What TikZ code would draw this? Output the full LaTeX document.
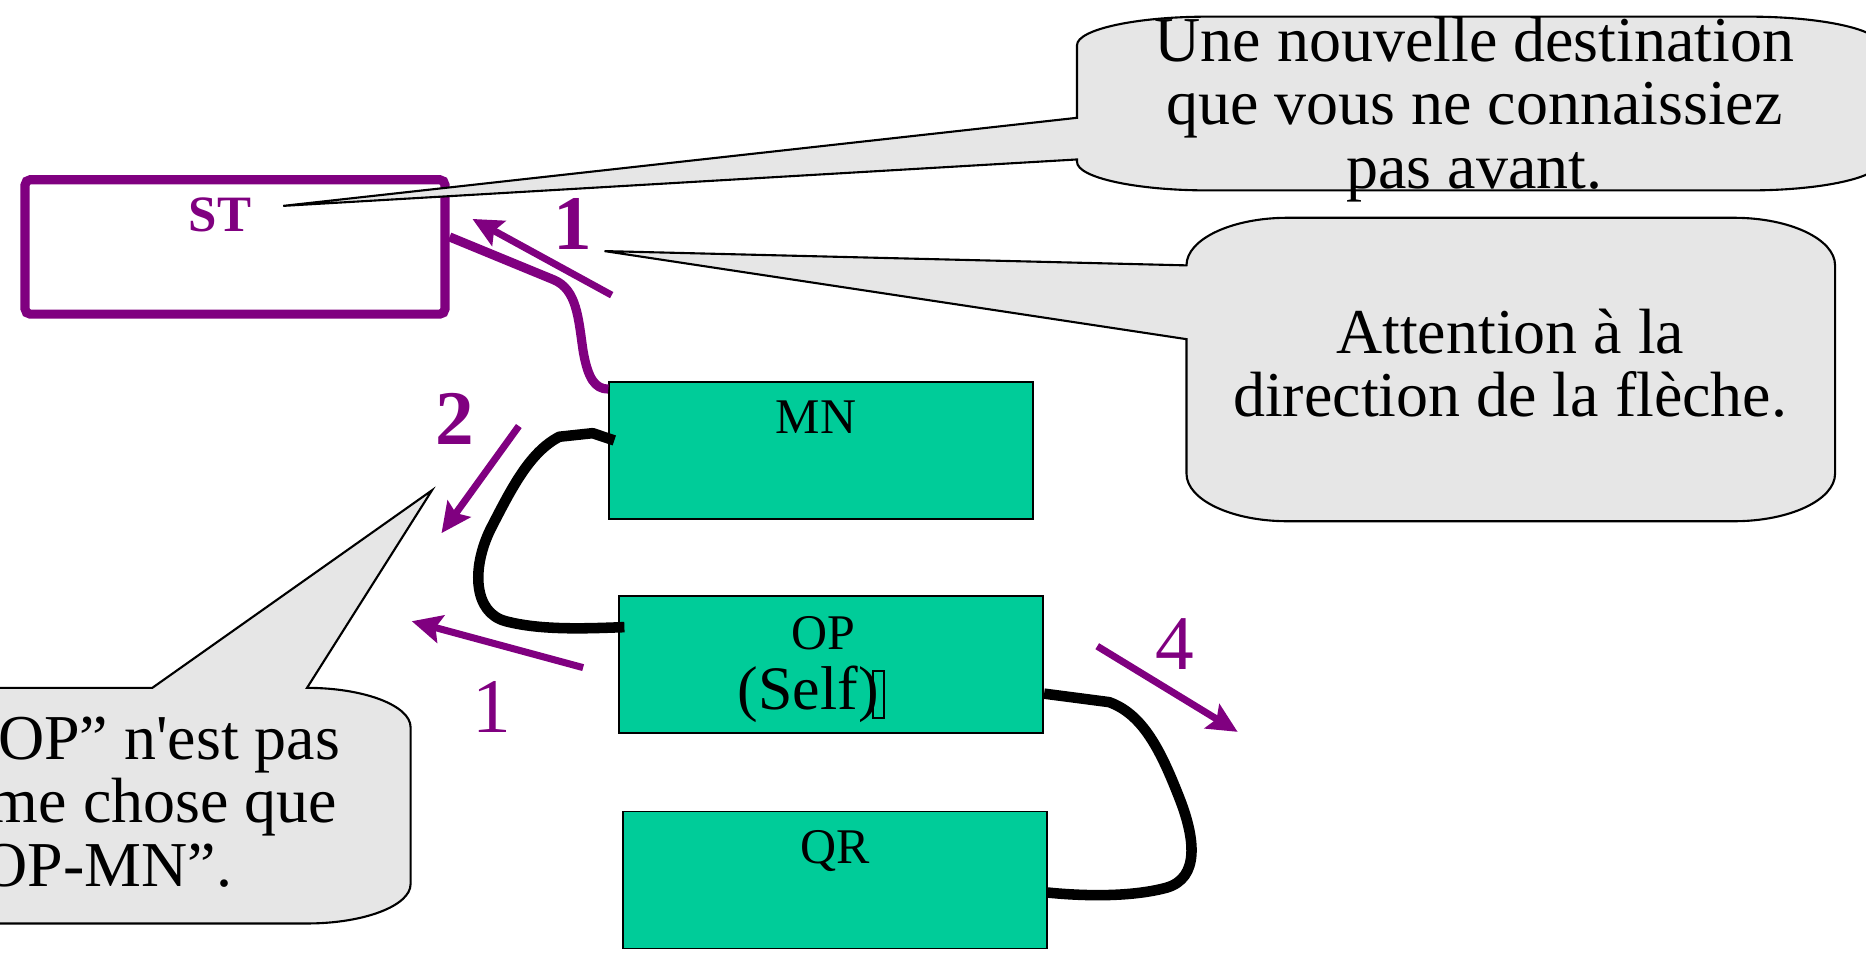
\documentclass[tikz,border=0pt]{standalone}
\usepackage{fontspec}
\setmainfont{Liberation Serif}
\newfontfamily\notefont{Liberation Serif}
\usepackage{tikz}
\usetikzlibrary{arrows.meta}
\usetikzlibrary{positioning}
\definecolor{stpurple}{RGB}{128,0,128}
\definecolor{cellgreen}{RGB}{0,204,153}
\definecolor{bubblegray}{RGB}{230,230,230}
\tikzstyle{stbox} = [rectangle, rounded corners=1.5pt, draw=stpurple, line width=2.6pt, minimum width=4.2cm, minimum height=1.345cm]
\tikzstyle{cell} = [rectangle, draw=black, line width=0.5pt, fill=cellgreen, minimum width=4.24cm, minimum height=1.37cm]
\tikzstyle{cellname} = [inner sep=0pt, font=\fontsize{14.2}{16}\selectfont]
\tikzstyle{bubble} = [draw=black, line width=0.6pt, fill=bubblegray]
\tikzstyle{note} = [align=center, inner sep=0pt, font=\notefont\fontsize{18.2}{18}\selectfont]
\tikzstyle{num} = [inner sep=0pt, text=stpurple, font=\fontsize{22}{24}\selectfont]
\tikzstyle{numbold} = [num, font=\bfseries\fontsize{22}{24}\selectfont]
\tikzstyle{arrow} = [line width=2pt, draw=stpurple, -{Stealth[length=8.5pt, width=8pt, inset=1.5pt]}]
\tikzstyle{link} = [line width=3pt, line join=round]
\newcommand{\tofu}{\kern-0.1em\raisebox{-0.115em}{\fboxsep=0pt\fboxrule=0.5pt\fbox{\rule{0.14em}{0pt}\rule{0pt}{0.73em}}}}

\begin{document}
\begin{tikzpicture}[x=0.0119cm, y=-0.0119cm]
\useasboundingbox (0,0) rectangle (1568,802);

\node (st) [stbox] at (197.5,207.5) {};
\node (stl) [inner sep=0pt, text=stpurple, font=\bfseries\fontsize{14.5}{16}\selectfont, below=0.22cm of st.north, xshift=-0.15cm] {ST};

\node (mn) [cell] at (690,378.5) {};
\node (op) [cell] at (698.5,558.5) {};
\node (qr) [cell] at (701.5,739.5) {};
\node (mnl) [cellname, below=0.19cm of mn.north, xshift=-0.05cm] {MN};
\node (opl) [cellname, below=0.2cm of op.north, xshift=-0.08cm] {OP};
\node (self) [cellname, font=\fontsize{17.6}{20}\selectfont, below=0.155cm of opl.south, xshift=-0.12cm] {(Self)\tofu};
\node (qrl) [cellname, below=0.19cm of qr.north] {QR};

% links between the cells
\draw [link, draw=stpurple, line width=2.6pt] ([yshift=0.1cm]st.east) -- (465,235) .. controls (485,243) and (486,268) .. (490,295) .. controls (494,318) and (500,327) .. ([yshift=-0.08cm]mn.north west);
\draw [link] ([xshift=0.06cm,yshift=0.1cm]mn.west) -- (498,364) -- (470,367) .. controls (445,380) and (430,410) .. (412,445) .. controls (396,478) and (398,515) .. (425,522) .. controls (455,530) and (495,528) .. ([xshift=0.06cm,yshift=0.375cm]op.west);
\draw [link] ([yshift=-0.29cm]op.east) -- (932,590) .. controls (960,600) and (975,630) .. (990,668) .. controls (1005,705) and (1008,738) .. (980,746) .. controls (950,754) and (910,753) .. ([yshift=-0.125cm]qr.east);

% numbered arrows
\coordinate (a1s) at (514,248);
\coordinate (a1e) at (397,184);
\coordinate (a2s) at (436,358);
\coordinate (a2e) at (371,448);
\coordinate (a3s) at (490,561);
\coordinate (a3e) at (346,522);
\coordinate (a4s) at (922,543);
\coordinate (a4e) at (1040,615);
\draw [arrow] (a1s) -- (a1e);
\draw [arrow] (a2s) -- (a2e);
\draw [arrow] (a3s) -- (a3e);
\draw [arrow] (a4s) -- (a4e);
\node (n1) [numbold] at (481,188) {1};
\node (n2) [numbold] at (382,352) {2};
\node (n3) [num] at (413,594) {1};
\node (n4) [num] at (987,541) {4};

% callouts
\coordinate (tip1) at (238,173);
\coordinate (tip2) at (508,211);
\coordinate (tip3) at (363,412);
\draw [bubble] (905,38) .. controls (905,24.8) and (954.3,14) .. (1015,14) -- (1470,14) .. controls (1530.7,14) and (1580,24.8) .. (1580,38) -- (1580,136) .. controls (1580,149.2) and (1530.7,160) .. (1470,160) -- (1015,160) .. controls (954.3,160) and (905,149.2) .. (905,136) -- (905,134) -- (tip1) -- (905,99) -- cycle;
\draw [bubble] (997,223) .. controls (997,201) and (1035,183) .. (1082,183) -- (1457,183) .. controls (1504,183) and (1542,201) .. (1542,223) -- (1542,398) .. controls (1542,420) and (1504,438) .. (1457,438) -- (1082,438) .. controls (1035,438) and (997,420) .. (997,398) -- (997,285) -- (tip2) -- cycle;
\draw [bubble] (-200,578) -- (128,578) -- (tip3) -- (258,578) .. controls (306,578) and (345,593) .. (345,611) -- (345,743) .. controls (345,761) and (306,776) .. (258,776) -- (-200,776) -- cycle;
\node (b1) [note] at (1239,92) {Une nouvelle destination\\que vous ne connaissiez\\pas avant.};
\node (b2) [note] at (1269,305) {Attention à la\\direction de la flèche.};
\node (b3) [note] at (78,674) {“MN-OP” n'est pas\\la même chose que\\“OP-MN”.};
\end{tikzpicture}
\end{document}
